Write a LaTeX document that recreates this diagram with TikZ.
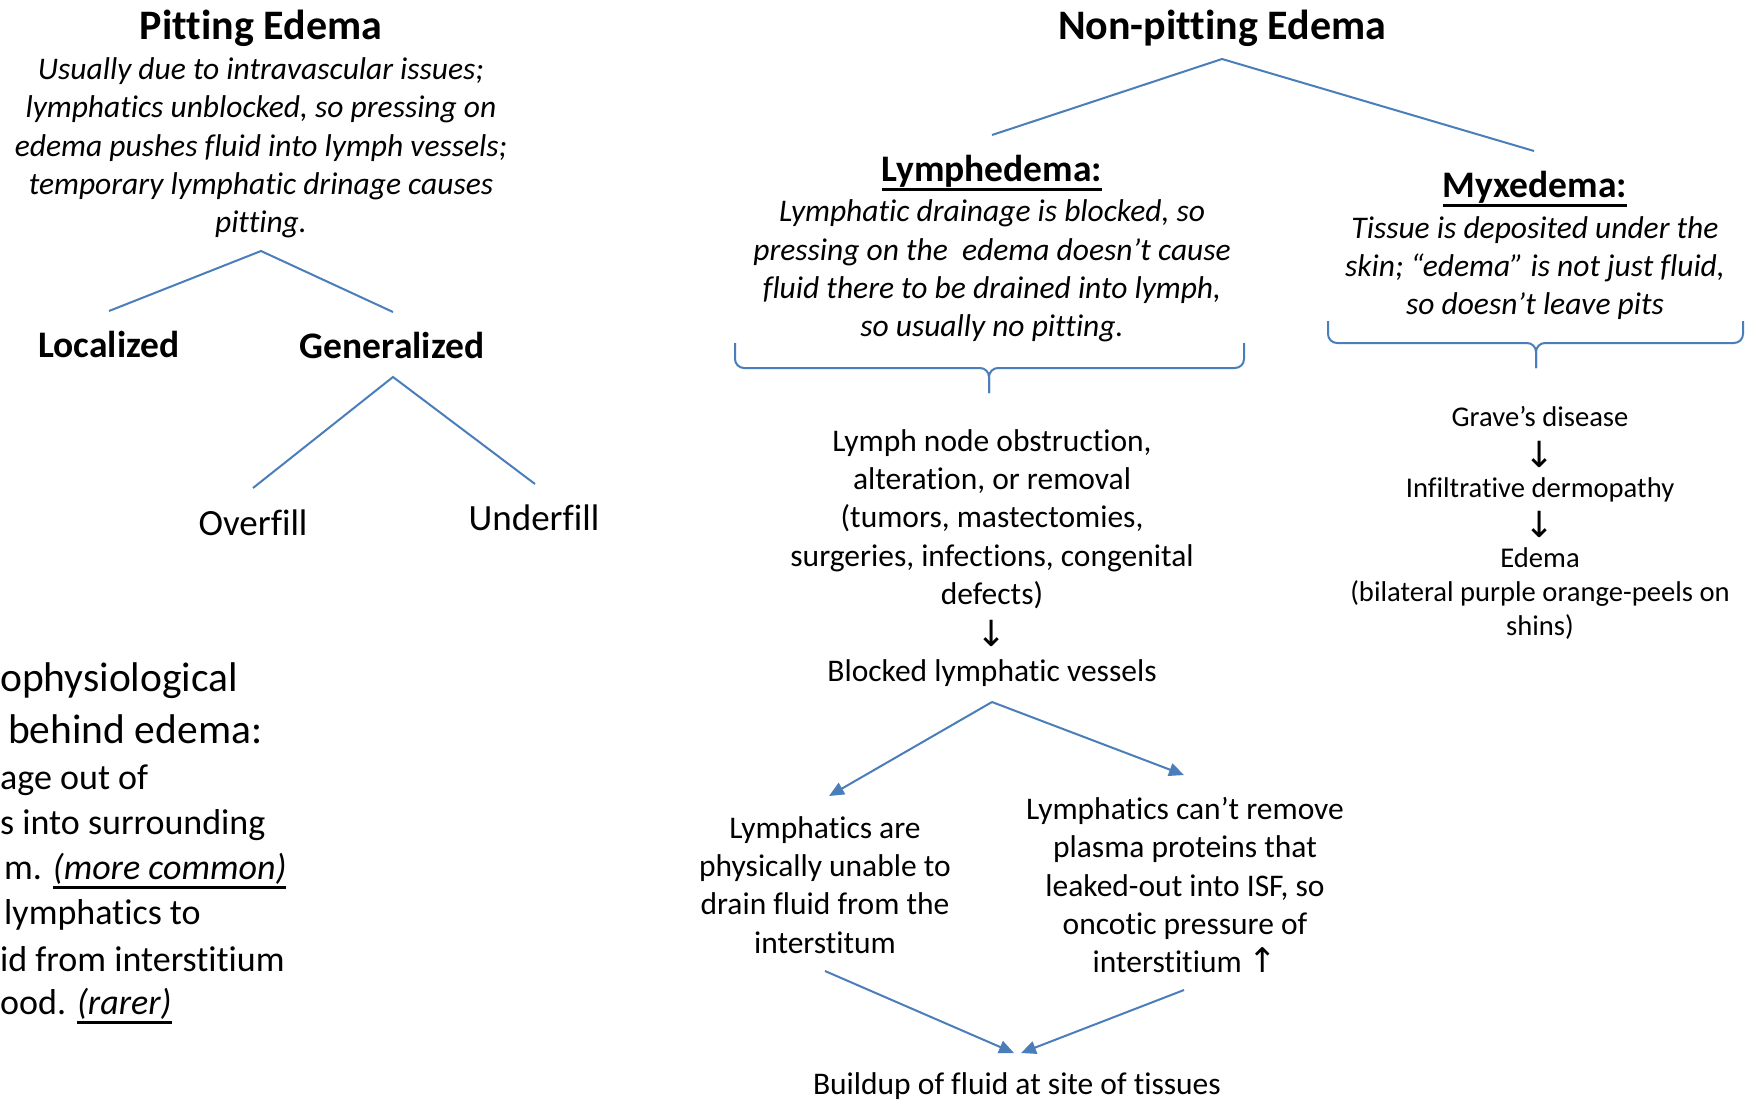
\documentclass[tikz,border=0pt]{standalone}
\usepackage{fontspec}
\setmainfont{Carlito}[Ligatures={NoCommon,NoContextual}]
\newfontfamily\symfont{DejaVu Sans}
\usetikzlibrary{arrows.meta}
\definecolor{lineblue}{RGB}{74,126,187}
\newcommand\thul[2][3pt]{\vtop{\hbox{#2}\kern1.2pt\hrule height #1}}
\begin{document}
\begin{tikzpicture}[x=1pt,y=-1pt,
  txt/.style={inner sep=0pt, align=center, text=black, yshift=-3pt},
  body/.style={txt, font=\fontsize{31.5}{38.3}\selectfont},
  ital/.style={txt, font=\fontsize{31.5}{38.3}\selectfont\itshape},
  small/.style={txt, font=\fontsize{28.6}{34}\selectfont},
  title/.style={txt, font=\fontsize{42}{50}\selectfont\bfseries},
  sub/.style={txt, font=\fontsize{37.5}{43}\selectfont\bfseries},
  plain/.style={txt, font=\fontsize{37}{43}\selectfont},
  frag/.style={inner sep=0pt, anchor=west, yshift=-3pt, font=\fontsize{36}{43}\selectfont},
  fraghead/.style={inner sep=0pt, anchor=west, yshift=-3pt, font=\fontsize{41.5}{50}\selectfont},
  sym/.style={txt, font=\fontsize{36}{38}\selectfont\symfont},
  conn/.style={draw=lineblue, line width=2pt},
  arr/.style={conn, -{Triangle[length=15pt,width=13pt]}},
]
\fill[white] (0,0) rectangle (1752,1100);
\useasboundingbox (0,0) rectangle (1752,1100);

% ---------- Pitting edema ----------
\node[title] (pitTitle) at (261,25) {Pitting Edema};
\node[ital] (pitDesc) at (261,145) {Usually due to intravascular issues;\\lymphatics unblocked, so pressing on\\edema pushes fluid into lymph vessels;\\temporary lymphatic drinage causes\\pitting.};
\coordinate (pA) at (261,251);
\coordinate (pL) at (109,311);
\coordinate (pR) at (393,312);
\draw[conn] (pL) -- (pA) -- (pR);
\node[sub] (loc) at (109,341) {Localized};
\node[sub] (gen) at (392,342) {Generalized};
\coordinate (gA) at (393,377);
\coordinate (gL) at (253,488);
\coordinate (gR) at (535,484);
\draw[conn] (gL) -- (gA) -- (gR);
\node[plain] (over) at (253,520) {Overfill};
\node[plain] (under) at (534,515) {Underfill};

% ---------- cut-off text at left ----------
\node[fraghead] (f1) at (0,678) {ophysiological};
\node[fraghead] (f2) at (8,726) {behind edema:};
\node[frag] (f3) at (0,777) {age out of};
\node[frag] (f4) at (0,822) {s into surrounding};
\node[frag] (f5) at (4,868) {m. \thul[2.6pt]{\itshape (more common)}};
\node[frag] (f6) at (4,912) {lymphatics to};
\node[frag] (f7) at (0,956) {id from interstitium};
\node[frag] (f8) at (0,1003) {ood. \thul[2.6pt]{\itshape (rarer)}};

% ---------- Non-pitting edema ----------
\node[title] (npTitle) at (1222,25) {Non-pitting Edema};
\coordinate (nA) at (1222,59);
\coordinate (nL) at (992,135);
\coordinate (nR) at (1534,151);
\draw[conn] (nL) -- (nA) -- (nR);

\node[sub] (lymTitle) at (992,170) {\thul{Lymphedema:}};
\node[ital] (lymDesc) at (992,268) {Lymphatic drainage is blocked, so\\pressing on the\ \ edema doesn’t cause\\fluid there to be drained into lymph,\\so usually no pitting.};
\node[sub] (myxTitle) at (1535,186) {\thul{Myxedema:}};
\node[ital] (myxDesc) at (1535,265) {Tissue is deposited under the\\skin; “edema” is not just fluid,\\so doesn’t leave pits};

% braces
\coordinate (lbL) at (735,343);
\coordinate (lbR) at (1244,343);
\coordinate (lbT) at (989,393);
\draw[conn, rounded corners=9pt] (lbL) -- (735,368) -- (989,368) -- (lbT);
\draw[conn, rounded corners=9pt] (lbR) -- (1244,368) -- (989,368) -- (lbT);
\coordinate (mbL) at (1328,321);
\coordinate (mbR) at (1743,321);
\coordinate (mbT) at (1536,368);
\draw[conn, rounded corners=9pt] (mbL) -- (1328,343) -- (1536,343) -- (mbT);
\draw[conn, rounded corners=9pt] (mbR) -- (1743,343) -- (1536,343) -- (mbT);

% lymphedema chain
\node[body] (cause) at (992,516) {Lymph node obstruction,\\alteration, or removal\\(tumors, mastectomies,\\surgeries, infections, congenital\\defects)};
\node[sym] (down1) at (992,630) {↓};
\node[body] (blk) at (992,670) {Blocked lymphatic vessels};
\coordinate (bA) at (992,702);
\coordinate (bL) at (829,796);
\coordinate (bR) at (1184,775);
\draw[arr] (bA) -- (bL);
\draw[arr] (bA) -- (bR);
\node[body] (unable) at (825,882) {Lymphatics are\\physically unable to\\drain fluid from the\\interstitum};
\node[body] (prot) at (1185,882) {Lymphatics can’t remove\\plasma proteins that\\leaked-out into ISF, so\\oncotic pressure of\\interstitium {\symfont\fontsize{34}{38}\selectfont ↑}};
\coordinate (uS) at (825,971);
\coordinate (pS) at (1184,990);
\coordinate (hL) at (1014,1053);
\coordinate (hR) at (1021,1053);
\draw[arr] (uS) -- (hL);
\draw[arr] (pS) -- (hR);
\node[body] (build) at (1017,1083) {Buildup of fluid at site of tissues};

% myxedema chain
\node[small] (grave) at (1540,414) {Grave’s disease};
\node[sym] (down2) at (1540,451) {↓};
\node[small] (infil) at (1540,487) {Infiltrative dermopathy};
\node[sym] (down3) at (1540,521) {↓};
\node[small] (edm) at (1540,591) {Edema\\(bilateral purple orange-peels on\\shins)};
\end{tikzpicture}
\end{document}
